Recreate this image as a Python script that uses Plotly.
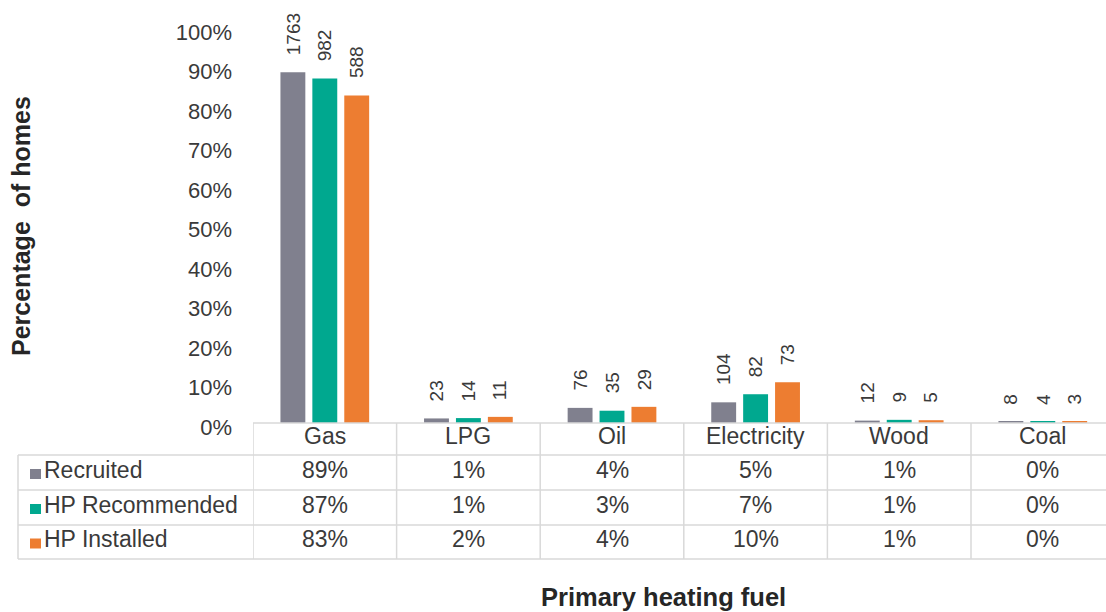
import plotly.graph_objects as go

# Homes by primary heating fuel, counted at each stage of the programme
fuels = ["Gas", "LPG", "Oil", "Electricity", "Wood", "Coal"]
series_names = ["Recruited", "HP Recommended", "HP Installed"]
recruited = [1763, 23, 76, 104, 12, 8]
hp_recommended = [982, 14, 35, 82, 9, 4]
hp_installed = [588, 11, 29, 73, 5, 3]
series_counts = [recruited, hp_recommended, hp_installed]
colors = ["#80808E", "#00A88F", "#ED7D31"]
y_ticks = [i / 10 for i in range(11)]

W, H = 1106, 612
LEFT, TOP, BOTTOM = 253, 28, 423          # plot area edges in pixels
PLOT_W, PLOT_H = W - LEFT, BOTTOM - TOP
CAT_W = 143.6                             # pixel width of one category band
BARGAP = 1 / 3
FONT = "Liberation Sans, Arial, sans-serif"
TEXT = "#3a3a3a"
GRID = "#D9D9D9"

# Share of each stage's homes that use each fuel
shares = [[c / sum(counts) for c in counts] for counts in series_counts]


def py(pix):
    """Pixel row (from top) -> paper y."""
    return (BOTTOM - pix) / PLOT_H


def px(pix):
    """Pixel column (from left) -> paper x."""
    return (pix - LEFT) / PLOT_W


fig = go.Figure()
for name, vals, col in zip(series_names, shares, colors):
    fig.add_trace(go.Bar(
        x=list(range(len(fuels))), y=vals, name=name,
        marker=dict(color=col, line=dict(width=0)),
        showlegend=False, hoverinfo="skip",
    ))

shapes, annos = [], []
slot = (1 - BARGAP) / len(series_names)

# Count labels above each bar
for j, (counts, vals) in enumerate(zip(series_counts, shares)):
    for i, (c, v) in enumerate(zip(counts, vals)):
        annos.append(dict(
            x=i + (j - 1) * slot, y=v, xref="x", yref="y",
            text=str(c), showarrow=False, textangle=-90,
            xanchor="center", yanchor="bottom", yshift=15,
            font=dict(family=FONT, size=19, color=TEXT),
        ))

# Data table under the chart
row_tops = [423, 455, 490, 525, 559]
left_edge = 18
line = dict(color=GRID, width=1.5)
# header top line and vertical cell borders
shapes.append(dict(type="line", xref="paper", yref="paper",
                   x0=0, x1=1.02, y0=py(row_tops[0]), y1=py(row_tops[0]), line=line))
for k in range(len(fuels) + 1):
    shapes.append(dict(type="line", xref="x", yref="paper",
                       x0=k - 0.5, x1=k - 0.5, y0=py(row_tops[0]), y1=py(row_tops[-1]), line=line))
for r in row_tops[1:]:
    shapes.append(dict(type="line", xref="paper", yref="paper",
                       x0=px(left_edge), x1=1.02, y0=py(r), y1=py(r), line=line))
shapes.append(dict(type="line", xref="paper", yref="paper",
                   x0=px(left_edge), x1=px(left_edge), y0=py(row_tops[1]), y1=py(row_tops[-1]), line=line))

# header row: fuel names
for i, f in enumerate(fuels):
    annos.append(dict(x=i, y=py((row_tops[0] + row_tops[1]) / 2 - 3), xref="x", yref="paper",
                      text=f, showarrow=False, xanchor="center", yanchor="middle",
                      font=dict(family=FONT, size=23, color=TEXT)))

# value rows with legend keys
for j, (name, vals, col) in enumerate(zip(series_names, shares, colors)):
    top, bot = row_tops[j + 1], row_tops[j + 2]
    mid = (top + bot) / 2
    shapes.append(dict(type="rect", xref="paper", yref="paper",
                       x0=px(30), x1=px(41), y0=py(mid + 6.5), y1=py(mid - 3.5),
                       fillcolor=col, line=dict(width=0)))
    annos.append(dict(x=px(42), y=py(mid - 3), xref="paper", yref="paper",
                      text=name, showarrow=False, xanchor="left", yanchor="middle",
                      font=dict(family=FONT, size=23, color=TEXT)))
    for i, v in enumerate(vals):
        annos.append(dict(x=i, y=py(mid - 3), xref="x", yref="paper",
                          text=f"{round(v * 100)}%", showarrow=False,
                          xanchor="center", yanchor="middle",
                          font=dict(family=FONT, size=23, color=TEXT)))

# axis titles
annos.append(dict(x=px(21), y=py(226), xref="paper", yref="paper",
                  text="<b>Percentage  of homes</b>", showarrow=False, textangle=-90,
                  xanchor="center", yanchor="middle",
                  font=dict(family=FONT, size=25, color="#262626")))
annos.append(dict(x=px(663), y=py(597), xref="paper", yref="paper",
                  text="<b>Primary heating fuel</b>", showarrow=False,
                  xanchor="center", yanchor="middle",
                  font=dict(family=FONT, size=25.5, color="#262626")))

fig.update_layout(
    width=W, height=H,
    margin=dict(l=LEFT, r=0, t=TOP, b=H - BOTTOM, pad=0),
    paper_bgcolor="white", plot_bgcolor="white",
    barmode="group", bargap=BARGAP, bargroupgap=0.22,
    xaxis=dict(range=[-0.5, -0.5 + PLOT_W / CAT_W], showticklabels=False,
               showgrid=False, zeroline=False, showline=False, ticks=""),
    yaxis=dict(range=[0, 1], tickvals=y_ticks, tickformat=".0%",
               showgrid=False, zeroline=False, showline=False, ticks="",
               ticklabelstandoff=20, ticklabelshift=4,
               tickfont=dict(family=FONT, size=22, color=TEXT)),
    shapes=shapes, annotations=annos,
)

fig.write_html("out.html")
